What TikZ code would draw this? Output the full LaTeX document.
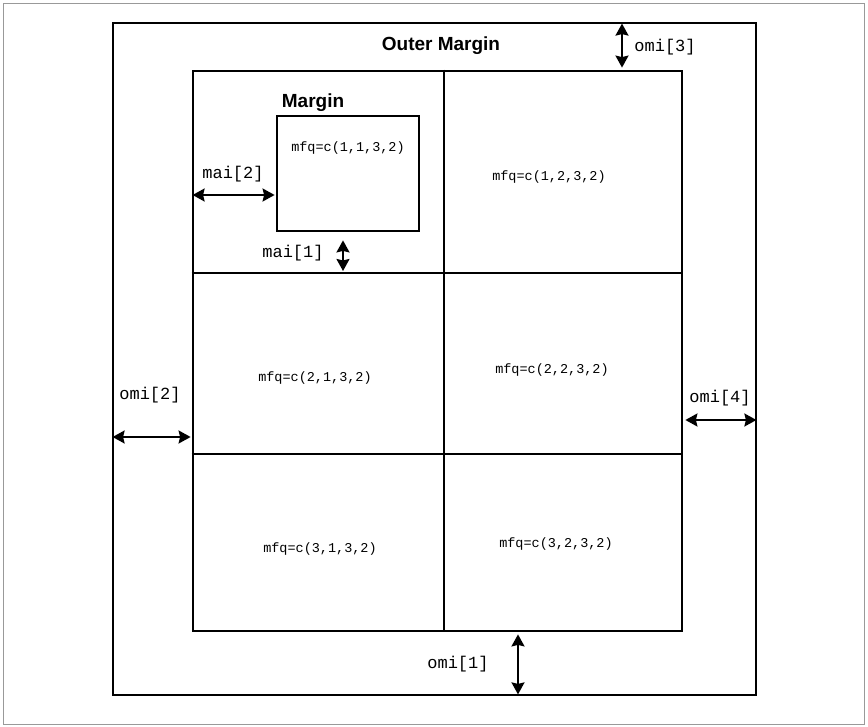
\documentclass[tikz,border=0pt]{standalone}
\usepackage{fontspec}
\setmainfont{Liberation Sans}
\newfontfamily\courierfont{Liberation Mono}
\usetikzlibrary{arrows.meta,positioning,calc}

\begin{document}
\begin{tikzpicture}[x=1pt, y=-1pt,
  box/.style={draw, line width=2.8pt, inner sep=0pt},
  divline/.style={line width=2.8pt},
  dimarrow/.style={{Stealth[length=12pt,width=13pt,inset=1.5pt]}-{Stealth[length=12pt,width=13pt,inset=1.5pt]}, line width=2pt},
  celltext/.style={font=\courierfont\fontsize{13.5}{15}\selectfont, inner sep=0pt},
  dimtext/.style={font=\courierfont\fontsize{17}{19}\selectfont, inner sep=0pt},
  boldtext/.style={font=\bfseries\fontsize{19}{21}\selectfont, inner sep=0pt}]

\useasboundingbox (0,0) rectangle (868,727);

% page frame
\draw[gray!80, line width=1.4pt] (3.5,3.5) rectangle (864.5,724.5);

% Outer box, figure region and plot region
\node[box, minimum width=643, minimum height=672] (outer) at (434.5,359) {};
\node[box, minimum width=489, minimum height=560] (fig) at (437.5,351) {};
\node[box, minimum width=142, minimum height=115] (plot) at (348,173.5) {};

% Split the figure region into 3 x 2 cells
\coordinate (colsplit) at (444,0);
\coordinate (rowa) at (0,273);
\coordinate (rowb) at (0,454);
\draw[divline] (fig.north -| colsplit) -- (fig.south -| colsplit);
\draw[divline] (fig.west |- rowa) -- (fig.east |- rowa);
\draw[divline] (fig.west |- rowb) -- (fig.east |- rowb);

% Titles
\node[boldtext] (outertitle) at (441,46) {Outer Margin};
\node[boldtext] (margintitle) at (313,103) {Margin};

% Cell labels
\node[celltext] (c11) at (348,148) {mfq=c(1,1,3,2)};
\node[celltext] (c12) at (549,177) {mfq=c(1,2,3,2)};
\node[celltext] (c21) at (315,378) {mfq=c(2,1,3,2)};
\node[celltext] (c22) at (552,370) {mfq=c(2,2,3,2)};
\node[celltext] (c31) at (320,549) {mfq=c(3,1,3,2)};
\node[celltext] (c32) at (556,544) {mfq=c(3,2,3,2)};

% Dimension arrows
\coordinate (omithree) at (622,0);
\coordinate (maitwo) at (0,195);
\coordinate (maione) at (343,0);
\coordinate (omitwo) at (0,437);
\coordinate (omifour) at (0,420);
\coordinate (omione) at (518,0);

\draw[dimarrow, shorten <=2pt, shorten >=2pt] (outer.north -| omithree) -- (fig.north -| omithree);
\draw[dimarrow, shorten <=1pt, shorten >=1pt] (fig.west |- maitwo) -- (plot.west |- maitwo);
\draw[dimarrow, shorten <=8pt, shorten >=2pt] (plot.south -| maione) -- (rowa -| maione);
\draw[dimarrow, shorten <=1pt, shorten >=1pt] (outer.west |- omitwo) -- (fig.west |- omitwo);
\draw[dimarrow, shorten <=2pt, shorten >=1pt] (fig.east |- omifour) -- (outer.east |- omifour);
\draw[dimarrow, shorten <=2pt, shorten >=2pt] (fig.south -| omione) -- (outer.south -| omione);

% Dimension labels
\node[dimtext] (lomithree) at (665,47) {omi[3]};
\node[dimtext] (lmaitwo) at (233,174) {mai[2]};
\node[dimtext] (lmaione) at (293,253) {mai[1]};
\node[dimtext] (lomitwo) at (150,395) {omi[2]};
\node[dimtext] (lomifour) at (720,398) {omi[4]};
\node[dimtext] (lomione) at (458,664) {omi[1]};

\end{tikzpicture}
\end{document}
